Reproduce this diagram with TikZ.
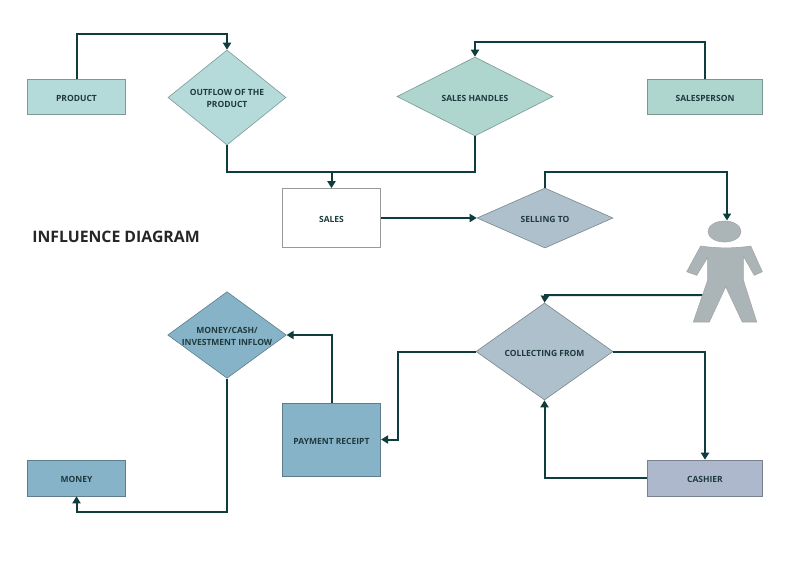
\documentclass[tikz,border=0pt]{standalone}
\usepackage{fontspec}
\setmainfont{Open Sans}
\usetikzlibrary{shapes.geometric,arrows.meta}
\definecolor{linec}{HTML}{0F3D3E}
\definecolor{labc}{HTML}{1F3A3D}
\tikzset{
  lab/.style={font=\fontsize{8.5}{12}\selectfont\bfseries,text=labc,align=center,inner sep=0pt},
  single/.style={text height=9pt,text depth=0pt},
  boxs/.style={lab,single,rectangle,draw=#1!70!black,line width=0.6pt,fill=#1},
  dia/.style={lab,diamond,draw=#1!70!black,line width=0.6pt,fill=#1},
  conn/.style={draw=linec,line width=2pt,-{Triangle[length=7pt,width=8pt]}},
  plain/.style={draw=linec,line width=2pt},
}
\newcommand{\downstrut}{\rule{0pt}{8.5pt}}
\definecolor{cprod}{HTML}{B5DADA}
\definecolor{chand}{HTML}{AED6CE}
\definecolor{csell}{HTML}{ADC0CB}
\definecolor{ccash}{HTML}{ADB8CC}
\definecolor{cmon}{HTML}{86B3C8}
\definecolor{cper}{HTML}{ABB5B8}
\begin{document}
\begin{tikzpicture}[x=1pt,y=-1pt]
\useasboundingbox (0,0) rectangle (800,566);
\fill[white] (0,0) rectangle (800,566);
% boxes
\node[boxs=cprod,minimum width=98.5pt,minimum height=35pt] (product) at (76.5,96.5) {PRODUCT};
\node[boxs=chand,minimum width=115.5pt,minimum height=35pt] (salesperson) at (705,96.5) {SALESPERSON};
\node[boxs=white,draw=black!40,minimum width=98.5pt,minimum height=59pt] (sales) at (331.5,218) {SALES};
\node[boxs=cmon,minimum width=98.5pt,minimum height=73pt] (payment) at (331.5,439.5) {PAYMENT RECEIPT};
\node[boxs=ccash,minimum width=115.5pt,minimum height=36pt] (cashier) at (705,478) {CASHIER};
\node[boxs=cmon,minimum width=98.5pt,minimum height=36pt] (money) at (76.5,478) {MONEY};
% diamonds
\node[dia=cprod,shape aspect=1.24,minimum width=118pt,minimum height=95pt] (outflow) at (227,97.5) {\downstrut OUTFLOW OF THE\\PRODUCT};
\node[dia=chand,single,shape aspect=1.97,minimum width=156pt,minimum height=79pt] (handles) at (475,96.5) {SALES HANDLES};
\node[dia=csell,single,shape aspect=2.27,minimum width=136pt,minimum height=60pt] (selling) at (545,218) {SELLING TO};
\node[dia=cmon,shape aspect=1.37,minimum width=118pt,minimum height=86pt] (inflow) at (227,335) {\downstrut MONEY/CASH/\\INVESTMENT INFLOW};
\node[dia=csell,single,shape aspect=1.41,minimum width=137pt,minimum height=97pt] (collect) at (544.5,351.5) {COLLECTING FROM};
% title
\node[inner sep=0pt,font=\fontsize{15.8}{18}\selectfont\bfseries,text=black!85] (title) at (116,237) {INFLUENCE DIAGRAM};
% person
\coordinate (personleft) at (706,295);
\draw[conn] (personleft) -- (545,295) -- (collect.north);
\draw[draw=gray!70,line width=0.6pt,fill=cper]
  (700.7,246) .. controls (717,248.5) and (735,248.5) .. (750.7,246)
  -- (762.3,271.7) -- (754.3,275.3) -- (743.3,256) -- (743.3,280) -- (756.7,322) -- (742.3,322)
  -- (725.7,286.7) -- (709.3,322) -- (693.3,322) -- (707.7,280) -- (707.7,257.3)
  -- (696.7,275.3) -- (686.7,271.7) -- cycle;
\node[ellipse,draw=gray!70,line width=0.6pt,fill=cper,minimum width=33pt,minimum height=21pt,inner sep=0pt] (head) at (724.5,231.5) {};
% connectors
\draw[conn] (product.north) |- (227,34) -- (outflow.north);
\draw[conn] (salesperson.north) |- (475,42) -- (handles.north);
\draw[plain] (outflow.south) |- (331.5,172) -| (handles.south);
\draw[conn] (331.5,172) -- (sales.north);
\draw[conn] (sales.east) -- (selling.west);
\draw[conn] (selling.north) |- (727,172) -- (727,220.5);
\draw[conn] (collect.west) -- (398,351.5) |- (payment.east);
\draw[conn] (collect.east) -- (705,351.5) -- (cashier.north);
\draw[conn] (cashier.west) -- (544.5,478) -- (collect.south);
\draw[conn] (payment.north) |- (inflow.east);
\draw[conn] (inflow.south) |- (76.5,512) -- (money.south);
\end{tikzpicture}
\end{document}
